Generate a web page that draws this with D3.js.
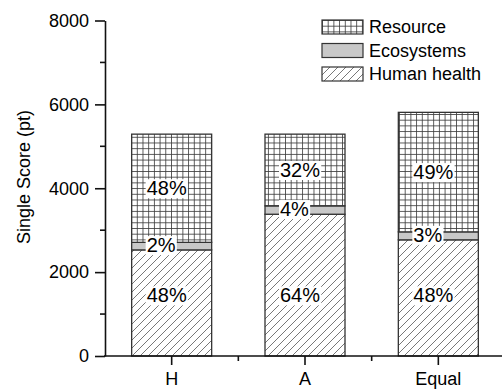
<!DOCTYPE html>
<html>
<head>
<meta charset="utf-8">
<script src="https://cdn.jsdelivr.net/npm/d3@7"></script>
<style>
  body { margin: 0; background: #fff; }
  svg { display: block; font-family: "Liberation Sans", Arial, sans-serif; }
</style>
</head>
<body>
<div id="chart"></div>
<script>
const categories = ["H", "A", "Equal"]
const humanHealth = [2530, 3380, 2770]
const ecosystems = [180, 200, 190]
const resource = [2580, 1710, 2850]
const humanPct = ["48%", "64%", "48%"]
const ecoPct = ["2%", "4%", "3%"]
const resourcePct = ["48%", "32%", "49%"]
const yTicks = [0, 2000, 4000, 6000, 8000]
const yMinorTicks = [1000, 3000, 5000, 7000]
const seriesNames = ["Resource", "Ecosystems", "Human health"]

const width = 502
const height = 389
const plotLeft = 105
const plotBottom = 356
const plotTop = 20.5
const fontFam = '"Liberation Sans", Arial, sans-serif'

const svg = d3.select("#chart").append("svg")
  .attr("width", width).attr("height", height)

// fill patterns
const defs = svg.append("defs")
const grid = defs.append("pattern")
  .attr("id", "grid").attr("patternUnits", "userSpaceOnUse")
  .attr("width", 5.7).attr("height", 5.7)
grid.append("rect").attr("width", 5.7).attr("height", 5.7).attr("fill", "#fff")
grid.append("path").attr("d", "M0,0.4H5.7M0.4,0V5.7")
  .attr("stroke", "#3a3a3a").attr("stroke-width", 0.9)

const hatch = defs.append("pattern")
  .attr("id", "hatch").attr("patternUnits", "userSpaceOnUse")
  .attr("width", 8).attr("height", 8)
hatch.append("rect").attr("width", 8).attr("height", 8).attr("fill", "#fff")
hatch.append("path").attr("d", "M-2,10L10,-2M-2,2L2,-2M6,10L10,6")
  .attr("stroke", "#555").attr("stroke-width", 0.8)

const fills = { resource: "url(#grid)", eco: "#c8c8c8", human: "url(#hatch)" }

const table = categories.map((c, i) => ({
  cat: c, human: humanHealth[i], eco: ecosystems[i], resource: resource[i]
}))
const stack = d3.stack().keys(["human", "eco", "resource"])(table)

const x = d3.scaleBand()
  .domain(categories)
  .range([plotLeft, 505])
  .paddingInner(0.4)
  .paddingOuter(0.2)

const y = d3.scaleLinear().domain([0, 8000]).range([plotBottom, plotTop])

// bars
svg.append("g")
  .selectAll("g")
  .data(stack)
  .join("g")
  .attr("fill", (d) => fills[d.key])
  .selectAll("rect")
  .data((d) => d)
  .join("rect")
  .attr("x", (d) => x(d.data.cat))
  .attr("y", (d) => y(d[1]))
  .attr("width", x.bandwidth())
  .attr("height", (d) => y(d[0]) - y(d[1]))
  .attr("stroke", "#333")
  .attr("stroke-width", 1.3)

// percentage labels with white boxes
const labels = svg.append("g").attr("font-size", 20)
const addLabel = (cx, cy, txt) => {
  const g = labels.append("g")
  const t = g.append("text")
    .attr("x", cx - 25).attr("y", cy)
    .attr("dy", "0.35em")
    .text(txt)
  const b = t.node().getBBox()
  g.insert("rect", "text")
    .attr("x", b.x - 1).attr("y", b.y + 2)
    .attr("width", b.width + 2).attr("height", b.height - 3)
    .attr("fill", "#fff")
}
const humanLabelY = y(d3.mean(humanHealth) / 2)
categories.forEach((c, i) => {
  const cx = x(c) + x.bandwidth() / 2
  const ecoMid = humanHealth[i] + ecosystems[i] / 2
  const resMid = humanHealth[i] + ecosystems[i] + resource[i] / 2
  addLabel(cx, humanLabelY, humanPct[i])
  addLabel(cx, y(ecoMid) - 1, ecoPct[i])
  addLabel(cx, y(resMid), resourcePct[i])
})

// y axis
const yAxis = svg.append("g")
  .attr("transform", `translate(${plotLeft},0)`)
  .call(d3.axisLeft(y).tickValues(yTicks).tickFormat(d3.format("d"))
    .tickSize(10).tickPadding(6).tickSizeOuter(0))
  .attr("font-family", fontFam)
  .attr("font-size", 18)
yAxis.selectAll("text").attr("fill", "#000")
yAxis.append("g")
  .selectAll("line")
  .data(yMinorTicks)
  .join("line")
  .attr("x1", -5).attr("x2", 0)
  .attr("y1", (d) => y(d)).attr("y2", (d) => y(d))
yAxis.selectAll("line, path").attr("stroke", "#111").attr("stroke-width", 1.6)

// x axis
const xAxis = svg.append("g")
  .attr("transform", `translate(0,${plotBottom})`)
  .call(d3.axisBottom(x).tickSize(9).tickPadding(7).tickSizeOuter(0))
  .attr("font-family", fontFam)
  .attr("font-size", 18)
xAxis.select(".domain").attr("d", `M${plotLeft - 1},0H${width}`)
xAxis.selectAll("text").attr("fill", "#000")
xAxis.append("g")
  .selectAll("line")
  .data(categories.slice(0, -1))
  .join("line")
  .attr("x1", (d) => x(d) + x.bandwidth() / 2 + x.step() / 2)
  .attr("x2", (d) => x(d) + x.bandwidth() / 2 + x.step() / 2)
  .attr("y1", 0).attr("y2", 5)
xAxis.selectAll("line, path").attr("stroke", "#111").attr("stroke-width", 1.6)

// y title
svg.append("text")
  .attr("transform", `translate(30,177) rotate(-90)`)
  .attr("text-anchor", "middle")
  .attr("font-size", 18)
  .text("Single Score (pt)")

// legend
const legend = svg.append("g").attr("transform", "translate(322,20)")
const legendFills = [fills.resource, fills.eco, fills.human]
seriesNames.forEach((name, i) => {
  const g = legend.append("g").attr("transform", `translate(0,${i * 23.5})`)
  g.append("rect")
    .attr("width", 41).attr("height", 14)
    .attr("fill", legendFills[i])
    .attr("stroke", "#333").attr("stroke-width", 1.2)
  g.append("text")
    .attr("x", 47).attr("y", 7).attr("dy", "0.35em")
    .attr("font-size", 18)
    .text(name)
})
</script>
</body>
</html>
